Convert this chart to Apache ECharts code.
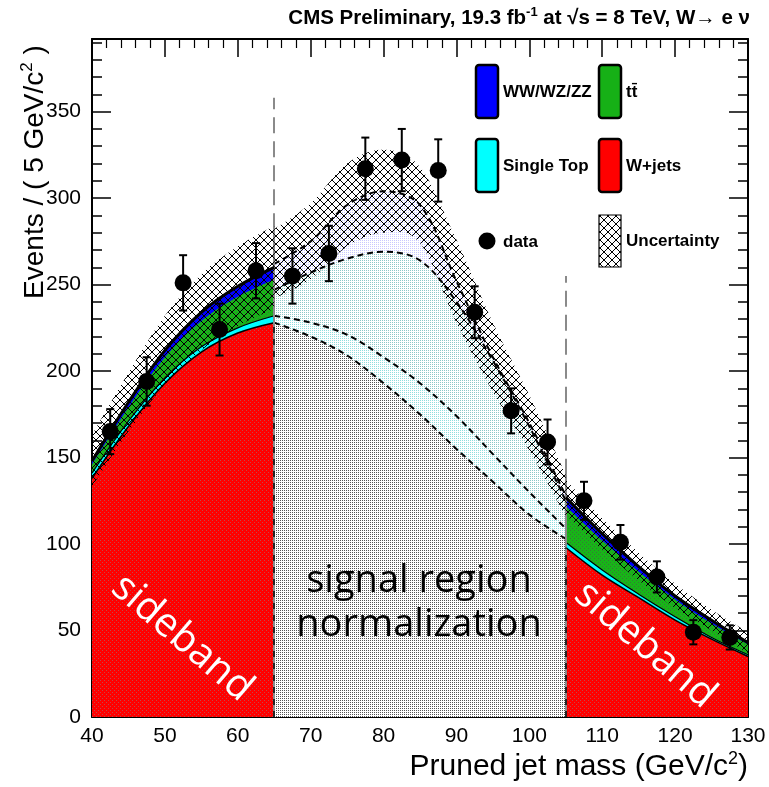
<!DOCTYPE html>
<html>
<head>
<meta charset="utf-8">
<script src="https://cdn.jsdelivr.net/npm/echarts@6/dist/echarts.min.js"></script>
<style>
html, body { margin: 0; padding: 0; background: #fff; }
#chart { width: 769px; height: 787px; }
</style>
</head>
<body>
<div id="chart"></div>
<script>
// ---- Observed data (5 GeV bins) ----
const dataMass   = [42.5, 47.5, 52.5, 57.5, 62.5, 67.5, 72.5, 77.5, 82.5, 87.5, 92.5, 97.5, 102.5, 107.5, 112.5, 117.5, 122.5, 127.5];
const dataEvents = [165, 194, 251, 224, 258, 255, 268, 317, 322, 316, 234, 177, 159, 125, 101, 81, 49, 46];
const dataErr    = [13, 14, 16, 15, 16, 16, 16, 18, 18, 18, 15, 13, 13, 11, 10, 9, 7, 7];

// ---- Lower sideband fit (40-65 GeV) ----
const massLeft  = [40, 45, 50, 55, 60, 65];
const wjetsLeft = [138, 168, 193, 211, 222, 228];
const stopLeft  = [3, 3, 3, 3, 3, 4];
const ttbarLeft = [5, 8, 12, 15, 18, 21];
const dibosLeft = [2, 3, 4, 5, 6, 7];
const uncLeft   = [15, 17, 20, 22, 23, 24];

// ---- Signal region extrapolation (65-105 GeV) ----
const massSig  = [65, 70, 75, 80, 85, 90, 95, 100, 105];
const wjetsSig = [228, 220, 209, 193, 175, 155, 136, 117, 103];
const stopSig  = [4, 8, 12, 15, 18, 19, 16, 13, 6];
const ttbarSig = [15, 29, 44, 61, 71, 66, 54, 38, 16];
const dibosSig = [15, 18, 31, 35, 32, 12, 2, 2, 3];
const uncSig   = [20, 22, 24, 24, 22, 24, 20, 16, 12];

// ---- Upper sideband fit (105-130 GeV) ----
const massRight  = [105, 110, 115, 120, 125, 130];
const wjetsRight = [98, 82, 69, 56, 45, 35];
const stopRight  = [3, 3, 2, 2, 1, 1];
const ttbarRight = [21, 17, 13, 10, 8, 6];
const dibosRight = [5, 4, 3, 2, 2, 1];
const uncRight   = [10, 9, 8, 7, 6, 6];

// ---- Region boundaries ----
const boundaryMass     = [65, 105];
const boundaryDashTop  = [358, 255];
const boundarySolidTop = [282, 140];
const boundaryFillTop  = [228, 98];

// ---- Axis ticks ----
const xTicks = { min: 40, max: 130, step: 10 };
const yTicks = { min: 0, max: 392, step: 50, minorStep: 10 };

const FONT = '"Liberation Sans", Arial, Helvetica, sans-serif';

// Small repeating canvases used as fills
function pattern(size, bg, dot, spots) {
  const c = document.createElement('canvas');
  c.width = c.height = size;
  const g = c.getContext('2d');
  if (bg) { g.fillStyle = bg; g.fillRect(0, 0, size, size); }
  g.fillStyle = dot;
  spots.forEach(p => g.fillRect(p[0], p[1], 1, 1));
  return { image: c, repeat: 'repeat' };
}
function hatch(size) {
  const c = document.createElement('canvas');
  c.width = c.height = size;
  const g = c.getContext('2d');
  g.strokeStyle = '#000';
  g.lineWidth = 1;
  g.beginPath();
  g.moveTo(-1, -1); g.lineTo(size + 1, size + 1);
  g.moveTo(-1, size + 1); g.lineTo(size + 1, -1);
  g.stroke();
  return c;
}
const hatchCanvas = hatch(8);
const stipple = [[0, 0]];
const fills = {
  wjets: pattern(4, '#ff0000', '#c04848', [[0, 0], [2, 2]]),
  stop:  '#00ffff',
  ttbar: pattern(4, '#18b418', '#357a35', [[0, 0], [2, 2]]),
  dibos: '#0000ff',
  wjetsSig: pattern(2, '#ffffff', '#555555', stipple),
  stopSig:  pattern(2, '#ffffff', '#90dede', stipple),
  ttbarSig: pattern(2, '#ffffff', '#8cc8c8', stipple),
  dibosSig: pattern(2, '#ffffff', '#c8c8ff', stipple),
  unc: { image: hatchCanvas, repeat: 'repeat' }
};

// Running sums of the stacked components
function cumulate(parts) {
  const out = [];
  let acc = parts[0].map(() => 0);
  parts.forEach(p => { acc = acc.map((v, i) => v + p[i]); out.push(acc.slice()); });
  return out;
}
function pairs(xs, ys) { return xs.map((x, i) => [x, ys[i]]); }

function area(xs, ys, fill) {
  return {
    type: 'line', data: pairs(xs, ys), smooth: 0.35, symbol: 'none', silent: true, z: 2,
    lineStyle: { width: 0, opacity: 0 },
    areaStyle: { color: fill, opacity: 1 }
  };
}
function edge(xs, ys, line, z) {
  return {
    type: 'line', data: pairs(xs, ys), smooth: 0.35, symbol: 'none', silent: true, z: z,
    lineStyle: line
  };
}

// Catmull-Rom segments through pixel points, as SVG path commands
function splineTo(pts) {
  let d = '';
  for (let i = 0; i < pts.length - 1; i++) {
    const p0 = pts[Math.max(i - 1, 0)], p1 = pts[i], p2 = pts[i + 1], p3 = pts[Math.min(i + 2, pts.length - 1)];
    const c1 = [p1[0] + (p2[0] - p0[0]) / 6, p1[1] + (p2[1] - p0[1]) / 6];
    const c2 = [p2[0] - (p3[0] - p1[0]) / 6, p2[1] - (p3[1] - p1[1]) / 6];
    d += ' C' + c1[0] + ',' + c1[1] + ' ' + c2[0] + ',' + c2[1] + ' ' + p2[0] + ',' + p2[1];
  }
  return d;
}

// Hatched uncertainty band around the total prediction
function band(xs, centre, err) {
  return {
    type: 'custom', silent: true, z: 5,
    data: xs.map((x, i) => [x, centre[i] - err[i], centre[i] + err[i]]),
    encode: { x: 0, y: [1, 2] },
    renderItem: function (params, api) {
      if (params.dataIndex !== 0) return;
      const up = xs.map((x, i) => api.coord([x, centre[i] + err[i]]));
      const lo = xs.map((x, i) => api.coord([x, centre[i] - err[i]])).reverse();
      const d = 'M' + up[0][0] + ',' + up[0][1] + splineTo(up) +
                ' L' + lo[0][0] + ',' + lo[0][1] + splineTo(lo) + ' Z';
      return { type: 'path', shape: { pathData: d }, style: { fill: fills.unc, stroke: null } };
    }
  };
}

function sidebandSeries(xs, wj, st, tt, vv, unc) {
  const [c1, c2, c3, c4] = cumulate([wj, st, tt, vv]);
  return [
    area(xs, c4, fills.dibos),
    area(xs, c3, fills.ttbar),
    area(xs, c2, fills.stop),
    area(xs, c1, fills.wjets),
    edge(xs, c2, { color: '#000', width: 1.2 }, 4),
    edge(xs, c1, { color: '#000', width: 1.5 }, 4),
    band(xs, c4, unc),
    edge(xs, c4, { color: '#000', width: 3 }, 6)
  ];
}

function signalSeries() {
  const [c1, c2, c3, c4] = cumulate([wjetsSig, stopSig, ttbarSig, dibosSig]);
  const dash = { color: '#000', width: 2, type: [6, 4] };
  return [
    area(massSig, c4, fills.dibosSig),
    area(massSig, c3, fills.ttbarSig),
    area(massSig, c2, fills.stopSig),
    area(massSig, c1, fills.wjetsSig),
    edge(massSig, c4, dash, 4),
    edge(massSig, c3, dash, 4),
    edge(massSig, c2, dash, 4),
    edge(massSig, c1, dash, 4),
    band(massSig, c4, uncSig)
  ];
}

const boundaryLines = [];
boundaryMass.forEach((m, i) => {
  const solid = { type: 'solid', color: '#8a8a8a', width: 2 };
  const dashed = { type: [16, 8], color: '#8a8a8a', width: 2 };
  const black = { type: [6, 6], color: '#000', width: 1.5 };
  boundaryLines.push([{ coord: [m, 0], lineStyle: solid }, { coord: [m, boundarySolidTop[i]], lineStyle: solid }]);
  boundaryLines.push([{ coord: [m, boundarySolidTop[i]], lineStyle: dashed }, { coord: [m, boundaryDashTop[i]], lineStyle: dashed }]);
  boundaryLines.push([{ coord: [m, 0], lineStyle: black }, { coord: [m, boundaryFillTop[i]], lineStyle: black }]);
});

const axisLineStyle = { show: true, onZero: false, lineStyle: { color: '#000', width: 2 } };
function xAxis(pos, labels) {
  return {
    type: 'value', position: pos, min: xTicks.min, max: xTicks.max, interval: xTicks.step,
    axisLine: axisLineStyle,
    axisTick: { show: true, inside: true, length: 18, lineStyle: { color: '#000', width: 1.5 } },
    minorTick: { show: true, splitNumber: 5, length: 9, lineStyle: { color: '#000', width: 1.2 } },
    axisLabel: { show: labels, color: '#000', fontSize: 21, fontFamily: FONT, margin: 9 },
    splitLine: { show: false }, minorSplitLine: { show: false }
  };
}
function yAxis(pos, step, len, labels, line) {
  return {
    type: 'value', position: pos, min: yTicks.min, max: yTicks.max, interval: step,
    axisLine: line ? axisLineStyle : { show: false },
    axisTick: { show: true, inside: true, length: len, lineStyle: { color: '#000', width: 1.5 } },
    axisLabel: { show: labels, color: '#000', fontSize: 21, fontFamily: FONT, margin: 11, showMaxLabel: false },
    splitLine: { show: false }
  };
}

const series = [
  ...sidebandSeries(massLeft, wjetsLeft, stopLeft, ttbarLeft, dibosLeft, uncLeft),
  ...signalSeries(),
  ...sidebandSeries(massRight, wjetsRight, stopRight, ttbarRight, dibosRight, uncRight),
  {
    type: 'line', data: [], silent: true, z: 7,
    markLine: { silent: true, symbol: 'none', animation: false, label: { show: false }, data: boundaryLines }
  },
  {
    type: 'custom', z: 10, silent: true,
    data: dataMass.map((m, i) => [m, dataEvents[i], dataErr[i]]),
    encode: { x: 0, y: 1 },
    renderItem: function (params, api) {
      const x = api.value(0), y = api.value(1), e = api.value(2);
      const hi = api.coord([x, y + e]), lo = api.coord([x, y - e]);
      const cap = 4, st = { stroke: '#000', lineWidth: 2 };
      return {
        type: 'group', children: [
          { type: 'line', shape: { x1: hi[0], y1: hi[1], x2: lo[0], y2: lo[1] }, style: st },
          { type: 'line', shape: { x1: hi[0] - cap, y1: hi[1], x2: hi[0] + cap, y2: hi[1] }, style: st },
          { type: 'line', shape: { x1: lo[0] - cap, y1: lo[1], x2: lo[0] + cap, y2: lo[1] }, style: st }
        ]
      };
    }
  },
  {
    type: 'scatter', z: 11, silent: true, symbol: 'circle', symbolSize: 17,
    itemStyle: { color: '#000', opacity: 1 },
    data: pairs(dataMass, dataEvents)
  }
];

// Legend entries
const legendFont = 'bold 17px ' + FONT;
function legendBox(x, y, fill, label) {
  return [
    { type: 'rect', z: 30, shape: { x: x, y: y, width: 22, height: 53, r: 3 },
      style: { fill: fill, stroke: '#000', lineWidth: 2.5 } },
    { type: 'text', z: 30, x: x + 27, y: y + 27,
      style: { text: label, font: legendFont, fill: '#000', verticalAlign: 'middle' } }
  ];
}

const graphics = [
  ...legendBox(476, 65, '#0000ff', 'WW/WZ/ZZ'),
  ...legendBox(599, 65, '#16b016', 'tt\u0304'),
  ...legendBox(476, 139, '#00ffff', 'Single Top'),
  ...legendBox(599, 139, '#ff0000', 'W+jets'),
  { type: 'circle', z: 30, shape: { cx: 487, cy: 241, r: 8.5 }, style: { fill: '#000' } },
  { type: 'text', z: 30, x: 503, y: 242, style: { text: 'data', font: legendFont, fill: '#000', verticalAlign: 'middle' } },
  { type: 'rect', z: 30, shape: { x: 599, y: 215, width: 22, height: 52 },
    style: { fill: { image: hatchCanvas, repeat: 'repeat' }, stroke: '#000', lineWidth: 1.2 } },
  { type: 'text', z: 30, x: 626, y: 241, style: { text: 'Uncertainty', font: legendFont, fill: '#000', verticalAlign: 'middle' } },

  // Header
  { type: 'text', z: 30, x: 750, y: 18,
    style: {
      text: 'CMS Preliminary, 19.3 fb{sup|-1} at \u221as = 8 TeV, W\u2192 e \u03bd',
      font: 'bold 20.5px ' + FONT, fill: '#000', align: 'right', verticalAlign: 'middle', lineHeight: 24,
      rich: { sup: { fontSize: 13, fontWeight: 'bold', fontFamily: FONT, verticalAlign: 'top', lineHeight: 13, fill: '#000' } }
    } },

  // Axis titles
  { type: 'text', z: 30, x: 35, y: 172, rotation: Math.PI / 2,
    style: {
      text: 'Events / ( 5 GeV/c{sup|2} )', font: '28px ' + FONT, fill: '#000', align: 'center', verticalAlign: 'middle', lineHeight: 32,
      rich: { sup: { fontSize: 17, fontFamily: FONT, verticalAlign: 'top', lineHeight: 17, fill: '#000' } }
    } },
  { type: 'text', z: 30, x: 748, y: 767,
    style: {
      text: 'Pruned jet mass (GeV/c{sup|2})', font: '30px ' + FONT, fill: '#000', align: 'right', verticalAlign: 'middle', lineHeight: 34,
      rich: { sup: { fontSize: 18, fontFamily: FONT, verticalAlign: 'top', lineHeight: 18, fill: '#000' } }
    } },

  // Region annotations
  { type: 'text', z: 8, x: 419, y: 603,
    style: { text: 'signal region\nnormalization', font: '38px "Open Sans", sans-serif', fill: '#000',
             align: 'center', verticalAlign: 'middle', lineHeight: 44 } },
  { type: 'text', z: 8, x: 182, y: 638, rotation: -0.71,
    style: { text: 'sideband', font: '40px "Open Sans", sans-serif', fill: '#fff', align: 'center', verticalAlign: 'middle' } },
  { type: 'text', z: 8, x: 645, y: 645, rotation: -0.71,
    style: { text: 'sideband', font: '40px "Open Sans", sans-serif', fill: '#fff', align: 'center', verticalAlign: 'middle' } }
];

const chart = echarts.init(document.getElementById('chart'), null, { renderer: 'canvas' });
chart.setOption({
  animation: false,
  backgroundColor: '#fff',
  grid: { left: 92, right: 21, top: 39, bottom: 70, containLabel: false, outerBoundsMode: 'none' },
  xAxis: [xAxis('bottom', true), xAxis('top', false)],
  yAxis: [
    yAxis('left', yTicks.step, 19, true, true),
    yAxis('left', yTicks.minorStep, 10, false, false),
    yAxis('right', yTicks.step, 19, false, true),
    yAxis('right', yTicks.minorStep, 10, false, false)
  ],
  series: series,
  graphic: graphics
});
</script>
</body>
</html>
